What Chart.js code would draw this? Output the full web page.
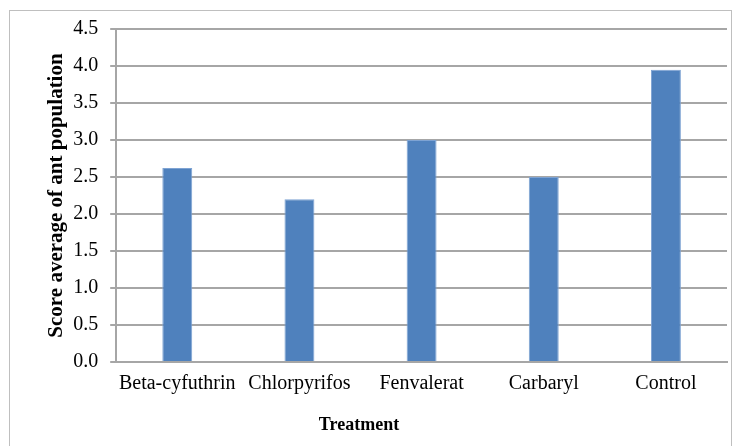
<!DOCTYPE html>
<html>
<head>
<meta charset="utf-8">
<script src="https://cdn.jsdelivr.net/npm/chart.js@4"></script>
<style>
  html, body { margin: 0; padding: 0; background: #fff; }
  #wrap { position: relative; width: 733px; height: 446px; overflow: hidden; }
  #frame { position: absolute; left: 9px; top: 10px; width: 721px; height: 460px; border: 1px solid #bfbfbf; }
  canvas { position: absolute; left: 0; top: 0; }
</style>
</head>
<body>
<div id="wrap">
  <div id="frame"></div>
  <canvas id="myChart" width="733" height="446"></canvas>
</div>
<script>
// Data
const treatments = ['Beta-cyfuthrin', 'Chlorpyrifos', 'Fenvalerat', 'Carbaryl', 'Control'];
const scoreAverage = [2.62, 2.2, 3.0, 2.5, 3.95];
const xTitle = 'Treatment';
const yTitle = 'Score average of ant population';

const barColor = '#4f81bd';
const gridColor = '#a6a6a6';
const font = 'Liberation Serif';

// The x title sits left of the plot centre in the original, so draw it by hand
const xTitlePlugin = {
    id: 'xTitle',
    afterDraw(chart) {
        const c = chart.ctx;
        c.save();
        c.font = 'bold 18px "' + font + '"';
        c.fillStyle = '#000';
        c.textAlign = 'center';
        c.textBaseline = 'middle';
        c.fillText(xTitle, 359, 425);
        c.restore();
    }
};

const ctx = document.getElementById('myChart').getContext('2d');
new Chart(ctx, {
    type: 'bar',
    data: {
        labels: treatments,
        datasets: [{
            data: scoreAverage,
            backgroundColor: barColor,
            borderColor: '#7ea3d3',
            borderWidth: 1,
            barPercentage: 0.49,
            categoryPercentage: 0.5
        }]
    },
    plugins: [xTitlePlugin],
    options: {
        responsive: false,
        animation: false,
        layout: { padding: { left: 44, right: 6, top: 29, bottom: 40 } },
        plugins: {
            legend: { display: false },
            tooltip: { enabled: false }
        },
        scales: {
            x: {
                grid: { display: false, drawTicks: false },
                border: { display: true, color: gridColor, width: 2 },
                ticks: { color: '#000', font: { family: font, size: 20 }, padding: 10, maxRotation: 0 }
            },
            y: {
                min: 0,
                max: 4.5,
                ticks: {
                    stepSize: 0.5,
                    color: '#000',
                    font: { family: font, size: 20 },
                    padding: 12,
                    callback: v => v.toFixed(1)
                },
                grid: { color: gridColor, lineWidth: 2, tickLength: 6 },
                border: { display: true, color: gridColor, width: 2 },
                title: {
                    display: true,
                    text: yTitle,
                    color: '#000',
                    font: { family: font, size: 21, weight: 'bold' },
                    padding: { top: 0, bottom: -8 }
                }
            }
        }
    }
});
</script>
</body>
</html>
